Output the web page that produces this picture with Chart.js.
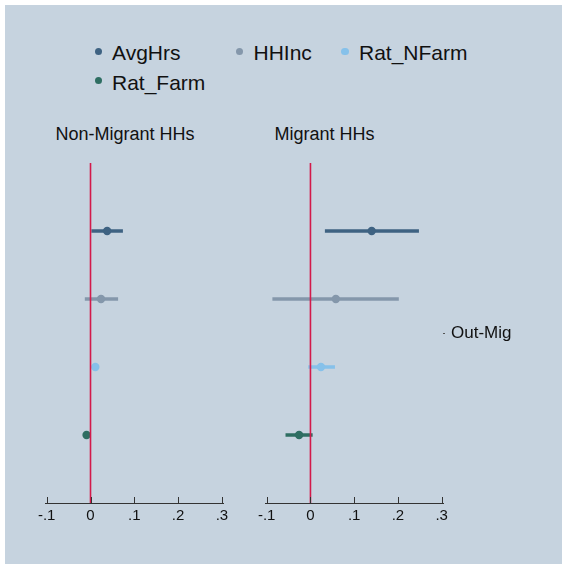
<!DOCTYPE html>
<html>
<head>
<meta charset="utf-8">
<script src="https://cdn.jsdelivr.net/npm/chart.js@4.4.1/dist/chart.umd.min.js"></script>
<style>
  html, body { margin: 0; padding: 0; background: #ffffff; }
  #wrap { position: relative; width: 562px; height: 564px; overflow: hidden; font-family: "Liberation Sans", Arial, Helvetica, sans-serif; color: #111; }
  #bg { position: absolute; left: 5px; top: 5px; width: 557px; height: 559px; background: #c6d3df; }
  canvas { position: absolute; left: 0; top: 0; }
  .leg { position: absolute; font-size: 21px; line-height: 21px; white-space: nowrap; }
  .dot { position: absolute; width: 7.4px; height: 7.4px; border-radius: 50%; }
  .ttl { position: absolute; font-size: 18px; line-height: 18px; white-space: nowrap; top: 124.8px; }
</style>
</head>
<body>
<div id="wrap">
  <div id="bg"></div>
  <div id="legend"></div>
  <div class="ttl" id="t1" style="left:55.5px"></div>
  <div class="ttl" id="t2" style="left:274.5px"></div>
  <canvas id="c1" width="562" height="564"></canvas>
  <canvas id="c2" width="562" height="564"></canvas>
</div>
<script>
// ---------- data ----------
const seriesNames  = ['AvgHrs', 'HHInc', 'Rat_NFarm', 'Rat_Farm'];
const seriesColors = ['#3e6282', '#8497ab', '#86c1ea', '#2e6e62'];
const rows = [1, 2, 3, 4];

const panelTitles = ['Non-Migrant HHs', 'Migrant HHs'];

const nonMigEst = [0.038, 0.024, 0.011, -0.009];
const nonMigLo  = [0.002, -0.013, 0.008, -0.011];
const nonMigHi  = [0.074, 0.063, 0.014, -0.007];

const migEst = [0.140, 0.058, 0.024, -0.026];
const migLo  = [0.033, -0.087, -0.005, -0.057];
const migHi  = [0.248, 0.202, 0.056, 0.005];

const xTickValues = [-0.1, 0, 0.1, 0.2, 0.3];
const xTickLabels = ['-.1', '0', '.1', '.2', '.3'];
const yLabel = 'Out-Mig';

// ---------- legend & titles ----------
const legendPos = [
  {dx: 98.3, dy: 51.7, tx: 112, ty: 41.5},
  {dx: 239.3, dy: 51.7, tx: 253.5, ty: 41.5},
  {dx: 345, dy: 51.7, tx: 359, ty: 41.5},
  {dx: 98.3, dy: 80.5, tx: 112, ty: 71.5}
];
const legend = document.getElementById('legend');
seriesNames.forEach((n, i) => {
  const p = legendPos[i];
  const d = document.createElement('div');
  d.className = 'dot';
  d.style.left = (p.dx - 3.7) + 'px';
  d.style.top = (p.dy - 3.7) + 'px';
  d.style.background = seriesColors[i];
  legend.appendChild(d);
  const t = document.createElement('div');
  t.className = 'leg';
  t.style.left = p.tx + 'px';
  t.style.top = p.ty + 'px';
  t.textContent = n;
  legend.appendChild(t);
});
document.getElementById('t1').textContent = panelTitles[0];
document.getElementById('t2').textContent = panelTitles[1];

// ---------- charts ----------
Chart.defaults.font.family = '"Liberation Sans", Arial, Helvetica, sans-serif';
Chart.defaults.color = '#111';

const upTicks = {
  id: 'upTicks',
  afterDraw(chart) {
    const sx = chart.scales.x;
    const ctx = chart.ctx;
    const b = chart.chartArea.bottom;
    ctx.save();
    ctx.strokeStyle = '#333';
    ctx.lineWidth = 1;
    sx.ticks.forEach(t => {
      const px = Math.round(sx.getPixelForValue(t.value)) + 0.5;
      ctx.beginPath();
      ctx.moveTo(px, b);
      ctx.lineTo(px, b - 6);
      ctx.stroke();
    });
    ctx.restore();
  }
};

function makePanel(id, est, lo, hi, padding, showY) {
  const datasets = [];
  datasets.push({
    data: [{x: 0, y: 0}, {x: 0, y: 5}],
    showLine: true, borderColor: '#d3194a', borderWidth: 1.6,
    pointRadius: 0, order: 0, clip: false
  });
  seriesNames.forEach((n, i) => {
    datasets.push({
      label: n,
      data: [{x: est[i], y: rows[i]}],
      backgroundColor: seriesColors[i], borderWidth: 0,
      pointRadius: 4.2, order: 1
    });
    datasets.push({
      data: [{x: lo[i], y: rows[i]}, {x: hi[i], y: rows[i]}],
      showLine: true, borderColor: seriesColors[i], borderWidth: 3.5,
      borderCapStyle: 'butt', pointRadius: 0, order: 2
    });
  });
  return new Chart(document.getElementById(id), {
    type: 'scatter',
    data: { datasets },
    options: {
      responsive: false, animation: false, events: [],
      layout: { padding },
      plugins: { legend: { display: false }, tooltip: { enabled: false } },
      scales: {
        x: {
          type: 'linear', position: 'bottom', min: -0.103, max: 0.303,
          afterBuildTicks: s => { s.ticks = xTickValues.map(v => ({value: v})); },
          afterFit: s => { s.height = 30; },
          ticks: {
            font: { size: 15 }, color: '#111', padding: 4, maxRotation: 0, autoSkip: false,
            callback: (v, i) => xTickLabels[i]
          },
          grid: { drawOnChartArea: false, drawTicks: false },
          border: { display: true, color: '#333', width: 1 }
        },
        y: {
          type: 'linear', position: 'right', min: 0, max: 5, reverse: true,
          display: showY,
          afterBuildTicks: s => { s.ticks = [{value: 2.5}]; },
          afterFit: s => { s.width = showY ? 100 : 0; },
          ticks: { font: { size: 17 }, color: '#111', padding: 6, callback: () => yLabel },
          grid: { drawOnChartArea: false, drawTicks: true, tickLength: 2, color: '#555' },
          border: { display: false }
        }
      }
    },
    plugins: [upTicks]
  });
}

makePanel('c1', nonMigEst, nonMigLo, nonMigHi, {left: 45.4, right: 338.8, top: 163, bottom: 31}, false);
makePanel('c2', migEst, migLo, migHi, {left: 265.4, right: 19, top: 163, bottom: 31}, true);
</script>
</body>
</html>
